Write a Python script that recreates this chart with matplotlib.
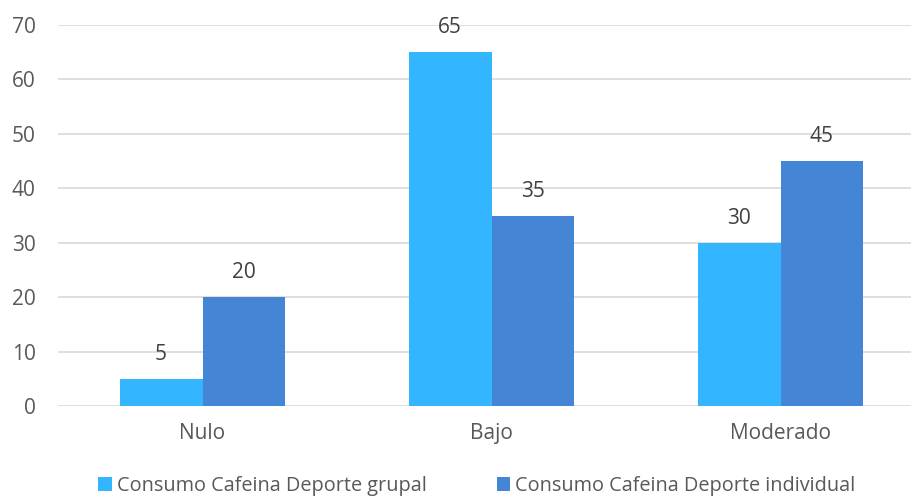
import matplotlib
matplotlib.use('Agg')
import matplotlib.pyplot as plt
import numpy as np

categorias = ['Nulo', 'Bajo', 'Moderado']
grupal = [5, 65, 30]
individual = [20, 35, 45]
series_names = ['Consumo Cafeina Deporte grupal', 'Consumo Cafeina Deporte individual']
yticks = [0, 10, 20, 30, 40, 50, 60, 70]

plt.rcParams['font.family'] = ['Open Sans', 'DejaVu Sans']
text_color = '#595959'

fig = plt.figure(figsize=(9.12, 5.01), dpi=100)
ax = fig.add_axes([58 / 912, 1 - 406 / 501, 854 / 912, 381 / 501])

x = np.arange(len(categorias))
w = 0.287
b1 = ax.bar(x - w / 2, grupal, w, color='#33B5FF', label=series_names[0], zorder=3)
b2 = ax.bar(x + w / 2, individual, w, color='#4585D5', label=series_names[1], zorder=3)

for bars in (b1, b2):
    for rect in bars:
        h = rect.get_height()
        ax.annotate(str(h), (rect.get_x() + rect.get_width() / 2, h),
                    xytext=(0, 10), textcoords='offset points',
                    ha='center', va='bottom', fontsize=15, color='#404040')

ax.set_xlim(-0.5, 2.455)
ax.set_ylim(0, 70)
ax.set_yticks(yticks)
ax.set_xticks(x)
ax.set_xticklabels(categorias)
ax.grid(axis='y', color='#D9D9D9', linewidth=1.2, zorder=0)
for s in ax.spines.values():
    s.set_visible(False)
ax.tick_params(axis='both', length=0, labelsize=15, labelcolor=text_color)
ax.tick_params(axis='y', pad=16)
ax.tick_params(axis='x', pad=12)

fig.legend(loc='center', bbox_to_anchor=(477 / 912, 1 - 486 / 501), ncol=2, frameon=False,
           fontsize=14.3, labelcolor=text_color, handlelength=0.7, handleheight=0.7,
           handletextpad=0.25, columnspacing=3.5)

plt.savefig('out.png', dpi=100)
plt.close()
